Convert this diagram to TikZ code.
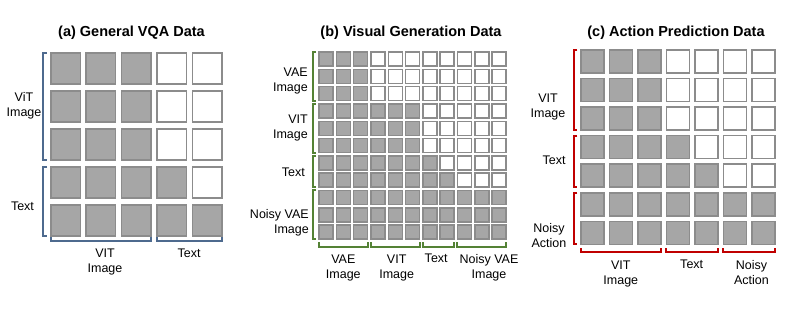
\documentclass[tikz,border=0pt]{standalone}
\usepackage{fontspec}
\setmainfont{Liberation Sans}
\usepackage{xcolor}
\usepackage{tikz}
\usetikzlibrary{positioning}

\definecolor{cellgray}{HTML}{A6A6A6}
\definecolor{celledge}{HTML}{8C8C8C}
\definecolor{vqablue}{HTML}{4E6A8E}
\definecolor{gengreen}{HTML}{548235}
\definecolor{actred}{HTML}{C00000}

\begin{document}
\begin{tikzpicture}[x=1pt, y=-1pt,
    cell/.style={draw=celledge, line width=1.5pt, inner sep=0pt, outer sep=0pt, anchor=north west},
    m0/.style={fill=white},
    m1/.style={fill=cellgray},
    brk/.style={line width=2pt},
    lbl/.style={font=\fontsize{12.5}{15}\selectfont, align=center, inner sep=0pt},
    ttl/.style={font=\fontsize{14.5}{17}\selectfont\bfseries, inner sep=0pt, anchor=base}
  ]
    \useasboundingbox (0,0) rectangle (793,317);
    % (a) General VQA Data
    \node[ttl] (ta) at (131.5,36) {(a) General VQA Data};
    \foreach \lim [count=\i] in {3,3,3,4,5}
      \foreach \j in {1,...,5} {
        \pgfmathtruncatemacro\on{\j<=\lim}
        \node[cell, m\on, minimum width=29.5pt, minimum height=31pt]
          (a-\i-\j) at ({50.75+(\j-1)*35.4}, {52.75+(\i-1)*38}) {};
      }
    \draw[brk, vqablue] ([xshift=-3.7pt]a-1-1.north west) -- ++(-3.7,0) |- ([xshift=-3.7pt]a-3-1.south west);
    \draw[brk, vqablue] ([xshift=-3.7pt]a-4-1.north west) -- ++(-3.7,0) |- ([xshift=-3.7pt]a-5-1.south west);
    \draw[brk, vqablue] ([yshift=-1.5pt]a-5-1.south west) -- ++(0,4) -| ([yshift=-1.5pt]a-5-3.south east);
    \draw[brk, vqablue] ([yshift=-1.5pt]a-5-4.south west) -- ++(0,4) -| ([yshift=-1.5pt]a-5-5.south east);
    \node[lbl] (la1) at (24,106) {ViT\\Image};
    \node[lbl] (la2) at (22.5,206) {Text};
    \node[lbl] (ba1) at (105,262) {VIT\\Image};
    \node[lbl] (ba2) at (189,253.3) {Text};

    % (b) Visual Generation Data
    \node[ttl] (tb) at (411,36) {(b) Visual Generation Data};
    \foreach \lim [count=\i] in {3,3,3,6,6,6,7,8,11,11,11}
      \foreach \j in {1,...,11} {
        \pgfmathtruncatemacro\on{\j<=\lim}
        \node[cell, m\on, minimum width=14pt, minimum height=14pt]
          (b-\i-\j) at ({319.05+(\j-1)*17.3}, {52.05+(\i-1)*17.3}) {};
      }
    \draw[brk, gengreen] ([xshift=-3pt]b-1-1.north west) -- ++(-3,0) |- ([xshift=-3pt]b-3-1.south west);
    \draw[brk, gengreen] ([xshift=-3pt]b-4-1.north west) -- ++(-3,0) |- ([xshift=-3pt]b-6-1.south west);
    \draw[brk, gengreen] ([xshift=-3pt]b-7-1.north west) -- ++(-3,0) |- ([xshift=-3pt]b-8-1.south west);
    \draw[brk, gengreen] ([xshift=-3pt]b-9-1.north west) -- ++(-3,0) |- ([xshift=-3pt]b-11-1.south west);
    \draw[brk, gengreen] ([yshift=-3pt]b-11-1.south west) -- ++(0,4.5) -| ([yshift=-3pt]b-11-3.south east);
    \draw[brk, gengreen] ([yshift=-3pt]b-11-4.south west) -- ++(0,4.5) -| ([yshift=-3pt]b-11-6.south east);
    \draw[brk, gengreen] ([yshift=-3pt]b-11-7.south west) -- ++(0,4.5) -| ([yshift=-3pt]b-11-8.south east);
    \draw[brk, gengreen] ([yshift=-3pt]b-11-9.south west) -- ++(0,4.5) -| ([yshift=-3pt]b-11-11.south east);
    \node[lbl, align=right, anchor=east] (lb1) at (308,81) {VAE\\Image};
    \node[lbl, align=right, anchor=east] (lb2) at (308,128.3) {VIT\\Image};
    \node[lbl, align=right, anchor=east] (lb3) at (305,172.5) {Text};
    \node[lbl, align=right, anchor=east] (lb4) at (309,222.6) {Noisy VAE\\Image};
    \node[lbl] (bb1) at (343.3,268) {VAE\\Image};
    \node[lbl] (bb2) at (396.7,268) {VIT\\Image};
    \node[lbl] (bb3) at (436.2,258.7) {Text};
    \node[lbl] (bb4) at (489,268) {Noisy VAE\\Image};

    % (c) Action Prediction Data
    \node[ttl] (tc) at (676,36) {(c) Action Prediction Data};
    \foreach \lim [count=\i] in {3,3,3,4,5,7,7}
      \foreach \j in {1,...,7} {
        \pgfmathtruncatemacro\on{\j<=\lim}
        \node[cell, m\on, minimum width=23pt, minimum height=23pt]
          (c-\i-\j) at ({580.75+(\j-1)*28.5}, {49.75+(\i-1)*28.6}) {};
      }
    \draw[brk, actred] ([xshift=-3.5pt]c-1-1.north west) -- ++(-3.2,0) |- ([xshift=-3.5pt]c-3-1.south west);
    \draw[brk, actred] ([xshift=-3.5pt]c-4-1.north west) -- ++(-3.2,0) |- ([xshift=-3.5pt]c-5-1.south west);
    \draw[brk, actred] ([xshift=-3.5pt]c-6-1.north west) -- ++(-3.2,0) |- ([xshift=-3.5pt]c-7-1.south west);
    \draw[brk, actred] ([yshift=-4pt]c-7-1.south west) -- ++(0,3.4) -| ([yshift=-4pt]c-7-3.south east);
    \draw[brk, actred] ([yshift=-4pt]c-7-4.south west) -- ++(0,3.4) -| ([yshift=-4pt]c-7-5.south east);
    \draw[brk, actred] ([yshift=-4pt]c-7-6.south west) -- ++(0,3.4) -| ([yshift=-4pt]c-7-7.south east);
    \node[lbl] (lc1) at (548,107) {VIT\\Image};
    \node[lbl] (lc2) at (554,160) {Text};
    \node[lbl] (lc3) at (549,236) {Noisy\\Action};
    \node[lbl] (bc1) at (620.8,274.3) {VIT\\Image};
    \node[lbl] (bc2) at (691.7,264.3) {Text};
    \node[lbl] (bc3) at (751.5,272.6) {Noisy\\Action};
\end{tikzpicture}
\end{document}
